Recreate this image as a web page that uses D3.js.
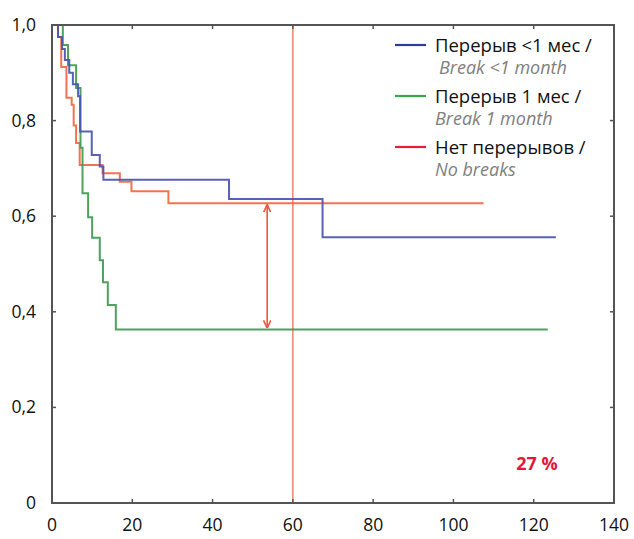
<!DOCTYPE html>
<html>
<head>
<meta charset="utf-8">
<script src="https://cdn.jsdelivr.net/npm/d3@7/dist/d3.min.js"></script>
<style>
  html, body { margin: 0; padding: 0; background: #fff; }
  svg { display: block; }
  text { font-family: "Open Sans", "Noto Sans", sans-serif; }
</style>
</head>
<body>
<svg id="chart" width="634" height="539"></svg>
<script>
// Kaplan–Meier survival curves by treatment break duration
const blueTimes = [0, 1.5, 2.5, 3.2, 4.3, 5.2, 6.5, 7.0, 9.9, 11.9, 12.8, 44.1, 67.4, 125.5];
const blueSurv  = [1.0, 0.975, 0.95, 0.927, 0.90, 0.876, 0.851, 0.777, 0.728, 0.704, 0.676, 0.636, 0.556, 0.556];

const greenTimes = [0, 2.7, 4.0, 6.0, 7.1, 7.6, 9.0, 10.0, 11.9, 12.7, 13.9, 15.9, 123.5];
const greenSurv  = [1.0, 0.958, 0.916, 0.868, 0.743, 0.648, 0.598, 0.555, 0.508, 0.462, 0.414, 0.363, 0.363];

const redTimes = [0, 1.5, 2.3, 3.6, 4.9, 5.4, 6.0, 6.9, 12.6, 16.9, 19.8, 29.0, 107.5];
const redSurv  = [1.0, 0.975, 0.912, 0.848, 0.833, 0.79, 0.753, 0.707, 0.690, 0.672, 0.652, 0.627, 0.627];

const xTicks = [0, 20, 40, 60, 80, 100, 120, 140];
const yTicks = [0, 0.2, 0.4, 0.6, 0.8, 1.0];
const yTickLabels = ["0", "0,2", "0,4", "0,6", "0,8", "1,0"];

const legendMain = ["Перерыв <1 мес /", "Перерыв 1 мес /", "Нет перерывов /"];
const legendSub  = ["Break <1 month", "Break 1 month", "No breaks"];

const markerTime = 60;         // 5-year mark
const gapTime = 53.6;          // where the difference arrow is drawn
const gapLabel = "27 %";

const svg = d3.select("#chart");
const plotLeft = 52, plotRight = 614, plotTop = 25, plotBottom = 503;

const x = d3.scaleLinear().domain([0, 140]).range([plotLeft, plotRight]);
const y = d3.scaleLinear().domain([0, 1]).range([plotBottom, plotTop]);

const axisColor = "#555";

// vertical reference line at 60 months
svg.append("line")
  .attr("x1", x(markerTime)).attr("x2", x(markerTime))
  .attr("y1", y(1)).attr("y2", y(0))
  .attr("stroke", "#f38a72").attr("stroke-width", 1.6);

// survival curves
const series = [
  { t: redTimes,   s: redSurv,   color: "#f2673f" },
  { t: greenTimes, s: greenSurv, color: "#3f9a4f" },
  { t: blueTimes,  s: blueSurv,  color: "#4a52b2" }
];
const line = d3.line().x(d => x(d[0])).y(d => y(d[1])).curve(d3.curveStepAfter);
series.forEach(sr => {
  svg.append("path")
    .datum(sr.t.map((t, i) => [t, sr.s[i]]))
    .attr("d", line)
    .attr("fill", "none")
    .attr("stroke", sr.color)
    .attr("stroke-width", 2)
    .attr("opacity", 0.92);
});

// double-headed arrow showing the gap between groups
const defs = svg.append("defs");
["start", "end"].forEach(k => {
  defs.append("marker")
    .attr("id", "arrow-" + k)
    .attr("viewBox", "0 0 10 10")
    .attr("refX", k === "end" ? 9 : 1).attr("refY", 5)
    .attr("markerWidth", 8).attr("markerHeight", 8)
    .attr("markerUnits", "userSpaceOnUse")
    .attr("orient", "auto")
    .append("path")
    .attr("d", k === "end" ? "M0,0.5 L10,5 L0,9.5" : "M10,0.5 L0,5 L10,9.5")
    .attr("fill", "none").attr("stroke", "#f0553c").attr("stroke-width", 2);
});
const redAt = redSurv[d3.bisectRight(redTimes, gapTime) - 1];
const greenAt = greenSurv[d3.bisectRight(greenTimes, gapTime) - 1];
svg.append("line")
  .attr("x1", x(gapTime)).attr("x2", x(gapTime))
  .attr("y1", y(redAt) + 2).attr("y2", y(greenAt) - 2)
  .attr("stroke", "#f0553c").attr("stroke-width", 1.6)
  .attr("marker-start", "url(#arrow-start)")
  .attr("marker-end", "url(#arrow-end)");

// frame with inward ticks on all sides
const gAxes = svg.append("g");
gAxes.append("rect")
  .attr("x", plotLeft).attr("y", plotTop)
  .attr("width", plotRight - plotLeft).attr("height", plotBottom - plotTop)
  .attr("fill", "none").attr("stroke", axisColor).attr("stroke-width", 2);

xTicks.forEach(v => {
  gAxes.append("line").attr("x1", x(v)).attr("x2", x(v))
    .attr("y1", plotBottom).attr("y2", plotBottom - 4).attr("stroke", axisColor).attr("stroke-width", 1.5);
  gAxes.append("line").attr("x1", x(v)).attr("x2", x(v))
    .attr("y1", plotTop).attr("y2", plotTop + 4).attr("stroke", axisColor).attr("stroke-width", 1.5);
  gAxes.append("text").attr("x", x(v)).attr("y", 531)
    .attr("text-anchor", "middle").attr("font-size", 17.5).attr("fill", "#111")
    .text(v);
});
yTicks.forEach((v, i) => {
  gAxes.append("line").attr("x1", plotLeft).attr("x2", plotLeft + 4)
    .attr("y1", y(v)).attr("y2", y(v)).attr("stroke", axisColor).attr("stroke-width", 1.5);
  gAxes.append("line").attr("x1", plotRight).attr("x2", plotRight - 4)
    .attr("y1", y(v)).attr("y2", y(v)).attr("stroke", axisColor).attr("stroke-width", 1.5);
  gAxes.append("text").attr("x", 36).attr("y", y(v) + 6)
    .attr("text-anchor", "end").attr("font-size", 17.5).attr("fill", "#111")
    .text(yTickLabels[i]);
});

// legend
const legendColors = ["#2e3a9c", "#37a84a", "#e0203a"];
const legend = svg.append("g");
legendMain.forEach((txt, i) => {
  const ly = 45 + i * 51;
  legend.append("line").attr("x1", 395).attr("x2", 426)
    .attr("y1", ly).attr("y2", ly)
    .attr("stroke", legendColors[i]).attr("stroke-width", 2.2);
  legend.append("text").attr("x", 435).attr("y", ly + 6.5)
    .attr("font-size", 18.5).attr("fill", "#111").text(txt);
  legend.append("text").attr("x", i === 0 ? 439 : 435).attr("y", ly + 29)
    .attr("font-size", 18).attr("font-style", "italic").attr("fill", "#808080")
    .text(legendSub[i]);
});

// gap label
svg.append("text").attr("x", 537).attr("y", 470)
  .attr("text-anchor", "middle").attr("font-size", 18).attr("font-weight", "bold")
  .attr("fill", "#e3173a").text(gapLabel);
</script>
</body>
</html>
